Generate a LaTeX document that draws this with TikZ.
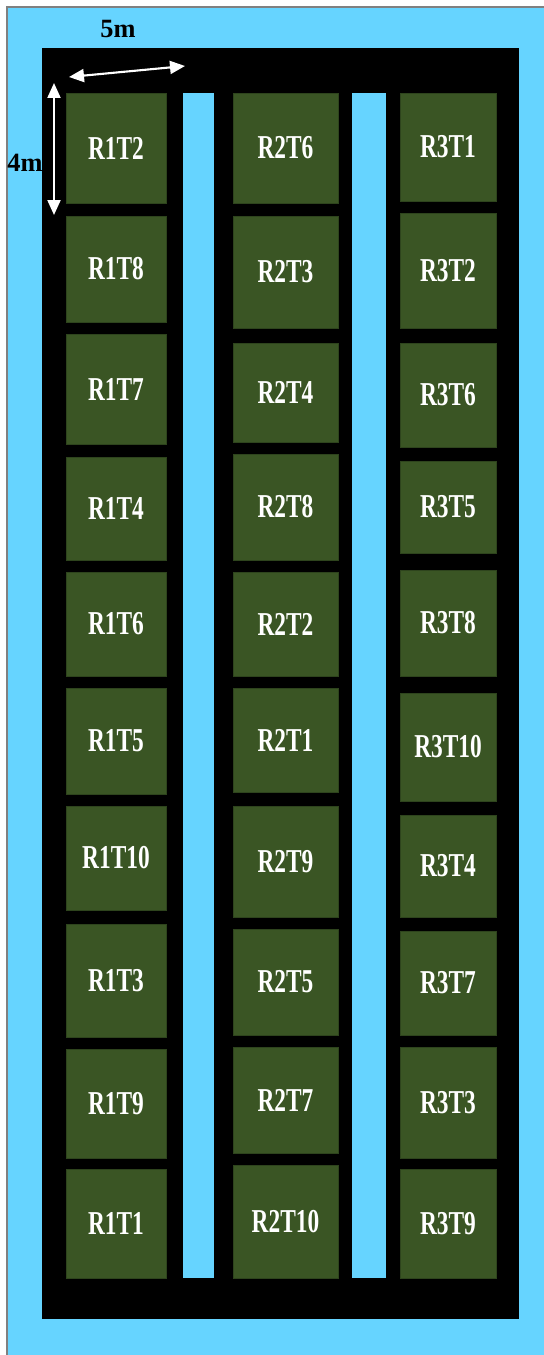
\documentclass[tikz,border=0pt]{standalone}
\usepackage{fontspec}
\setmainfont{Liberation Serif}
\usepackage{graphicx}
\usetikzlibrary{arrows.meta}

\definecolor{water}{RGB}{102,212,255}
\definecolor{plotgreen}{RGB}{58,85,36}
\newcommand{\plotname}[1]{\scalebox{0.7}[1]{#1}}

\begin{document}
\begin{tikzpicture}[
  x=0.02cm, y=-0.02cm,
  every node/.style={font=\bfseries},
  plot/.style={fill=plotgreen, draw=plotgreen!80!black, line width=0.3pt},
  lbl/.style={midway, text=white, font=\fontsize{19}{19}\bfseries},
  dim/.style={<->, white, line width=1.2pt,
              >={Triangle[length=0.3cm, width=0.26cm]}},
  dimlbl/.style={font=\fontsize{15}{15}\bfseries}
]
\useasboundingbox (0,0) rectangle (544,1355);

%% ---- Background and field ------------------------------------------
\fill[white] (0,0) rectangle (544,1355);
\fill[water] (7,7) rectangle (544,1355);
\draw[gray, line width=0.6pt] (7,1355) -- (7,7) -- (544,7);
\fill[black] (42,48) rectangle (519,1319);

% Water channels between the rows
\fill[water] (183,93) rectangle (214,1278);
\fill[water] (352,93) rectangle (386,1278);

%% ---- Row 1 (left) ----------------------------------------------------
\path[plot] (66,93)   rectangle (166,203)  node[lbl] (r1t2)  {\plotname{R1T2}};
\path[plot] (66,216)  rectangle (166,322)  node[lbl] (r1t8)  {\plotname{R1T8}};
\path[plot] (66,334)  rectangle (166,444)  node[lbl] (r1t7)  {\plotname{R1T7}};
\path[plot] (66,457)  rectangle (166,560)  node[lbl] (r1t4)  {\plotname{R1T4}};
\path[plot] (66,572)  rectangle (166,676)  node[lbl] (r1t6)  {\plotname{R1T6}};
\path[plot] (66,688)  rectangle (166,794)  node[lbl] (r1t5)  {\plotname{R1T5}};
\path[plot] (66,806)  rectangle (166,910)  node[lbl] (r1t10) {\plotname{R1T10}};
\path[plot] (66,924)  rectangle (166,1037) node[lbl] (r1t3)  {\plotname{R1T3}};
\path[plot] (66,1049) rectangle (166,1158) node[lbl] (r1t9)  {\plotname{R1T9}};
\path[plot] (66,1169) rectangle (166,1278) node[lbl] (r1t1)  {\plotname{R1T1}};

%% ---- Row 2 (middle) --------------------------------------------------
\path[plot] (233,93)   rectangle (338,203)  node[lbl] (r2t6)  {\plotname{R2T6}};
\path[plot] (233,216)  rectangle (338,328)  node[lbl] (r2t3)  {\plotname{R2T3}};
\path[plot] (233,343)  rectangle (338,442)  node[lbl] (r2t4)  {\plotname{R2T4}};
\path[plot] (233,454)  rectangle (338,560)  node[lbl] (r2t8)  {\plotname{R2T8}};
\path[plot] (233,572)  rectangle (338,676)  node[lbl] (r2t2)  {\plotname{R2T2}};
\path[plot] (233,688)  rectangle (338,792)  node[lbl] (r2t1)  {\plotname{R2T1}};
\path[plot] (233,806)  rectangle (338,917)  node[lbl] (r2t9)  {\plotname{R2T9}};
\path[plot] (233,929)  rectangle (338,1035) node[lbl] (r2t5)  {\plotname{R2T5}};
\path[plot] (233,1047) rectangle (338,1153) node[lbl] (r2t7)  {\plotname{R2T7}};
\path[plot] (233,1165) rectangle (338,1278) node[lbl] (r2t10) {\plotname{R2T10}};

%% ---- Row 3 (right) ---------------------------------------------------
\path[plot] (400,93)   rectangle (496,201)  node[lbl] (r3t1)  {\plotname{R3T1}};
\path[plot] (400,213)  rectangle (496,328)  node[lbl] (r3t2)  {\plotname{R3T2}};
\path[plot] (400,343)  rectangle (496,447)  node[lbl] (r3t6)  {\plotname{R3T6}};
\path[plot] (400,461)  rectangle (496,553)  node[lbl] (r3t5)  {\plotname{R3T5}};
\path[plot] (400,570)  rectangle (496,676)  node[lbl] (r3t8)  {\plotname{R3T8}};
\path[plot] (400,693)  rectangle (496,801)  node[lbl] (r3t10) {\plotname{R3T10}};
\path[plot] (400,815)  rectangle (496,917)  node[lbl] (r3t4)  {\plotname{R3T4}};
\path[plot] (400,931)  rectangle (496,1035) node[lbl] (r3t7)  {\plotname{R3T7}};
\path[plot] (400,1047) rectangle (496,1158) node[lbl] (r3t3)  {\plotname{R3T3}};
\path[plot] (400,1169) rectangle (496,1278) node[lbl] (r3t9)  {\plotname{R3T9}};

%% ---- Plot dimensions -------------------------------------------------
\coordinate (wleft)  at (69,77);
\coordinate (wright) at (185,66);
\coordinate (ltop)   at (54,83);
\coordinate (lbot)   at (54,215);
\draw[dim] (wleft) -- (wright);
\draw[dim] (ltop) -- (lbot);

\node[dimlbl] (width)  at (118,29)  {5m};
\node[dimlbl] (length) at (25,163)  {4m};

\end{tikzpicture}
\end{document}
